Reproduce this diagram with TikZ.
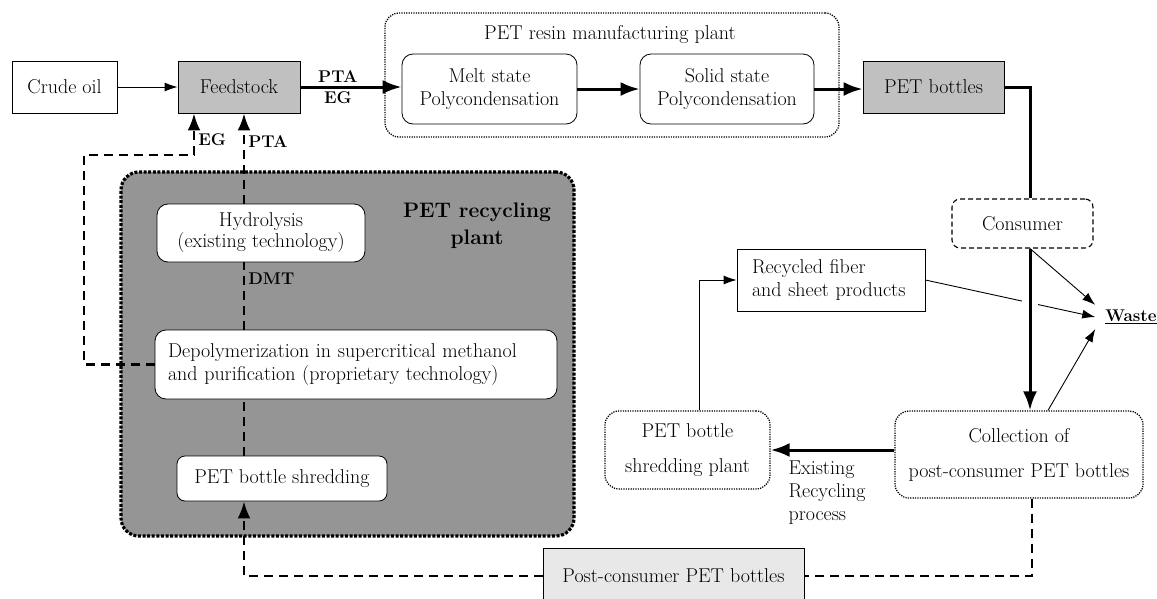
\documentclass[tikz,border=0pt]{standalone}
\usepackage{fontspec}
\usepackage{tikz}
\usetikzlibrary{arrows.meta,positioning,shapes}
\definecolor{feedgray}{RGB}{192,192,192}
\definecolor{plantgray}{RGB}{149,149,149}
\definecolor{postgray}{RGB}{232,232,232}
\tikzset{
  box/.style={draw, line width=0.8pt, align=center},
  greybox/.style={box, fill=feedgray},
  proc/.style={draw, rounded corners=11pt, fill=white, line width=0.8pt, align=center},
  dotbox/.style={draw, rounded corners=14pt, dash pattern=on 1.2pt off 1.2pt, line width=1.3pt, align=center},
  lbl/.style={font=\fontsize{17}{21}\selectfont\bfseries, inner sep=3pt},
  thinflow/.style={->, line width=0.9pt, >={Latex[length=13pt,width=9pt]}},
  flow/.style={->, line width=3pt, >={Latex[length=19pt,width=14pt]}},
  recline/.style={dash pattern=on 9pt off 6pt, line width=2.6pt},
  recflow/.style={recline, ->, >={Latex[length=17pt,width=13pt]}}
}
\begin{document}
\begin{tikzpicture}[x=1pt,y=-1pt,on grid,font=\fontsize{20}{23}\selectfont]
   \clip (0,0) rectangle (1157,598);
   \node[box, minimum width=105pt, minimum height=52pt] (crude) at (64.5,87) {Crude oil};
   \node[greybox, minimum width=122pt, minimum height=52pt] (feed) [right=174.5pt of crude] {Feedstock};
   \node[dotbox, minimum width=454pt, minimum height=124pt] (resin) at (612,75) {};
   \node (resintitle) at (610,35) {PET resin manufacturing plant};
   \node[proc, minimum width=175pt, minimum height=70pt] (melt) at (489.5,89) {Melt state\\Polycondensation};
   \node[proc, minimum width=174pt, minimum height=70pt] (solid) [right=237.5pt of melt] {Solid state\\Polycondensation};
   \node[greybox, minimum width=141pt, minimum height=52pt] (bottles) at (933.5,87) {PET bottles};
   \node[draw, rounded corners=8pt, dash pattern=on 5pt off 3pt, line width=1.1pt,
         minimum width=141pt, minimum height=49pt] (consumer) at (1022.5,223.5) {Consumer};
   \node[dotbox, minimum width=248pt, minimum height=87pt] (collect) at (1019,454.5) {Collection of\\[12pt]post-consumer PET bottles};
   \node[dotbox, minimum width=165pt, minimum height=78pt] (shredplant) at (687.5,450) {PET bottle\\[12pt]shredding plant};
   \node[box, text width=158pt, inner xsep=15pt, minimum height=62pt, align=left] (recycled) at (831,280) {Recycled fiber\\and sheet products};
   \node[lbl, inner xsep=10pt, inner ysep=5pt] (waste) at (1131,317) {\underline{Waste}};
   \node[box, fill=postgray, minimum width=261pt, minimum height=56pt] (postbox) at (673.5,576) {Post-consumer PET bottles};
   \node[draw, fill=plantgray, rounded corners=18pt, dash pattern=on 3pt off 1.6pt, line width=3.2pt,
         minimum width=453pt, minimum height=364pt] (plant) at (347.5,354) {};
   \node[font=\fontsize{21}{27}\selectfont\bfseries, align=center] (planttitle) at (477,226) {PET recycling\\plant};
   \node[proc, font=\fontsize{20}{21}\selectfont, minimum width=208pt, minimum height=58pt] (hydro) at (261,233) {Hydrolysis\\(existing technology)};
   \node[proc, text width=376pt, inner xsep=13pt, minimum height=69pt, align=left] (depol) at (356,364.5)
         {Depolymerization in supercritical methanol\\and purification (proprietary technology)};
   \node[proc, rounded corners=8pt, minimum width=210pt, minimum height=45pt] (shred) at (282,478.5) {PET bottle shredding};
   \node[align=left, anchor=north west] (existing) at (785,457) {Existing\\Recycling\\process};
   \coordinate (drop) at (1030,0);
   \coordinate (pta) at (244,0);
   \coordinate (eg) at (194,0);
   \coordinate (egturn) at (84,155);

   \draw[thinflow] (crude) -- (feed);
   \draw[flow] (feed) -- node[lbl, above, pos=0.37] {PTA} node[lbl, below, pos=0.37] {EG} (feed -| melt.west);
   \draw[flow] (melt) -- (solid);
   \draw[flow] (solid) -- (solid -| bottles.west);
   \draw[line width=3pt] (bottles.east) -| (drop |- consumer.north);
   \draw[thinflow] (recycled.east) -- (waste.west);
   \fill[white] (1022,296) rectangle (1038,312);
   \draw[flow] (drop |- consumer.south) -- (drop |- collect.north);
   \draw[thinflow] (drop |- consumer.south) -- (waste.north west);
   \draw[thinflow] ([xshift=29pt]collect.north) -- (waste.south west);
   \draw[flow] (collect.west |- shredplant.east) -- (shredplant.east);
   \draw[thinflow] ([xshift=11.5pt]shredplant.north) |- (recycled.west);
   \draw[recline] ([xshift=13pt]collect.south) |- (postbox.east);
   \draw[recflow] (postbox.west) -| (pta |- shred.south);
   \draw[recline] (pta |- shred.north) -- (pta |- depol.south);
   \draw[recline] (pta |- depol.north) -- node[lbl, right, pos=0.76] {DMT} (pta |- hydro.south);
   \draw[recflow] (pta |- hydro.north) -- node[lbl, right, pos=0.69] {PTA} (pta |- feed.south);
   \draw[recflow] (depol.west) -| (egturn) -| node[lbl, right, pos=0.68] {EG} (eg |- feed.south);
\end{tikzpicture}
\end{document}
